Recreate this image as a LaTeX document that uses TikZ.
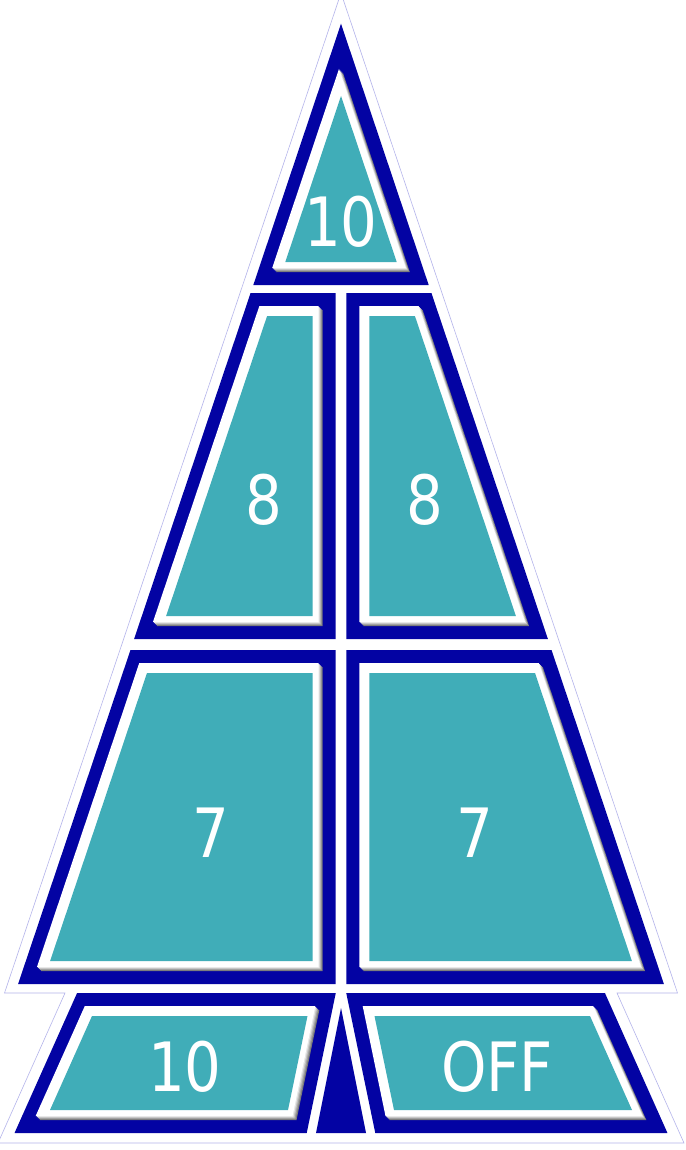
\documentclass[tikz,border=0pt]{standalone}
\usepackage{fontspec}
\newfontfamily\digitfont[FakeStretch=0.85]{DejaVu Sans}
\usepackage{tikz}
\definecolor{BoardBlue}{RGB}{3,3,163}
\definecolor{BoardTeal}{RGB}{64,173,184}
\definecolor{BoardLine}{RGB}{180,180,235}

% one scoring field: blue rim, shaded white frame, teal face
\newcommand{\drawpanel}[1]{%
  \filldraw[blueband] #1 -- cycle;
  \foreach \sx/\sy/\c in {2/-2/52, 1/-1/38, 0/0/24, -1/1/10, -2/2/0}
    \draw[frameband, draw=black!\c, xshift=\sx pt, yshift=\sy pt] #1 -- cycle;
  \fill[BoardTeal] #1 -- cycle;
}

\begin{document}
\begin{tikzpicture}[x=1pt, y=-1pt,
    blueband/.style={draw=BoardBlue, fill=BoardBlue, line width=46pt},
    frameband/.style={line width=16pt},
    lbl/.style={text=white, inner sep=0pt, font=\digitfont\fontsize{68}{68}\selectfont}
  ]
  \fill[white] (0,0) rectangle (685,1150);
  \useasboundingbox (0,0) rectangle (685,1150);
  % thin trim line round the board
  \draw[BoardLine, line width=0.6pt] (341,-7) -- (4.5,993) -- (65,993) -- (-2,1143)
        -- (684,1143) -- (617,993) -- (677.5,993) -- cycle;
  % top
  \drawpanel{(341,96) -- (285.3,262) -- (396.7,262)}
  % 8 row
  \drawpanel{(267.1,316) -- (312.7,316) -- (312.7,616) -- (166.1,616)}
  \drawpanel{(369.3,316) -- (414.9,316) -- (515.9,616) -- (369.3,616)}
  % 7 row
  \drawpanel{(147,673) -- (312.7,673) -- (312.7,961) -- (50.1,961)}
  \drawpanel{(369.3,673) -- (535,673) -- (631.9,961) -- (369.3,961)}
  % bottom row
  \drawpanel{(92,1016) -- (307.5,1016) -- (288,1110) -- (50,1110)}
  \drawpanel{(374.5,1016) -- (590,1016) -- (632,1110) -- (394,1110)}
  \fill[BoardBlue] (341,1008) -- (316,1133) -- (366,1133) -- cycle;

  \node[lbl] (top10) at (341,222) {10};
  \node[lbl] (left8) at (264,500) {8};
  \node[lbl] (right8) at (425,500) {8};
  \node[lbl] (left7) at (211,833) {7};
  \node[lbl] (right7) at (475,833) {7};
  \node[lbl] (low10) at (185,1067) {10};
  \node[lbl] (lowoff) at (497,1067) {OFF};
\end{tikzpicture}
\end{document}
